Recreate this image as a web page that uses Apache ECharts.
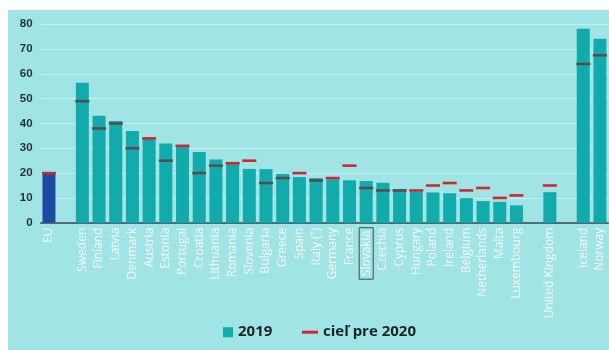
<!DOCTYPE html>
<html>
<head>
<meta charset="utf-8">
<script src="https://cdn.jsdelivr.net/npm/echarts@6/dist/echarts.min.js"></script>
<style>
  html, body { margin: 0; padding: 0; background: #ffffff; }
  #chart { position: absolute; left: 8px; top: 10px; width: 601px; height: 340px; background: #a1e4e5; }
</style>
</head>
<body>
<div id="chart"></div>
<script>
// Share of renewable energy in gross final energy consumption (%)
const countries = ['EU', '', 'Sweden', 'Finland', 'Latvia', 'Denmark', 'Austria', 'Estonia', 'Portugal',
  'Croatia', 'Lithuania', 'Romania', 'Slovenia', 'Bulgaria', 'Greece', 'Spain', 'Italy (¹)', 'Germany',
  'France', 'Slovakia', 'Czechia', 'Cyprus', 'Hungary', 'Poland', 'Ireland', 'Belgium', 'Netherlands',
  'Malta', 'Luxembourg', '', 'United Kingdom', '', 'Iceland', 'Norway'];

const share2019 = [19.7, null, 56.4, 43.1, 41.0, 37.0, 33.8, 31.9, 30.6,
  28.5, 25.5, 24.2, 21.7, 21.6, 19.7, 18.4, 18.0, 17.5,
  17.1, 16.8, 16.1, 13.6, 12.6, 12.2, 11.9, 9.9, 8.7,
  8.4, 7.0, null, 12.3, null, 78.2, 74.2];

const target2020 = [20, null, 49, 38, 40, 30, 34, 25, 31,
  20, 23, 24, 25, 16, 18, 20, 17, 18,
  23, 14, 13, 13, 13, 15, 16, 13, 14,
  10, 11, null, 15, null, 64, 67.5];

const yTicks = { min: 0, max: 80, interval: 10 };

const barColor = '#11abab';
const euColor = '#1c4aa3';
const targetRed = '#cc2a33';
const targetDark = '#5a4c4e';

const chart = echarts.init(document.getElementById('chart'), null, { renderer: 'canvas' });

const barData = share2019.map((v, i) =>
  countries[i] === 'EU' ? { value: v, itemStyle: { color: euColor } } : v);

const targetData = target2020.map((t, i) => {
  if (t == null) return null;
  const v = share2019[i];
  return { value: t, itemStyle: { color: (v != null && t < v - 0.5) ? targetDark : targetRed } };
});

const legendText = { color: '#1a2626', fontFamily: 'Open Sans', fontWeight: 'bold', fontSize: 15 };

chart.setOption({
  animation: false,
  grid: { left: 32.6, right: 0.7, top: 14.3, bottom: 127.3, containLabel: false },
  xAxis: {
    type: 'category',
    data: countries,
    axisLine: { show: true, lineStyle: { color: '#2a4750', width: 1.5 } },
    axisTick: { show: false },
    axisLabel: {
      interval: 0,
      rotate: 90,
      margin: 5,
      color: '#f4fbfb',
      fontFamily: 'Open Sans',
      fontSize: 12,
      formatter: (name) => name === 'Slovakia' ? '{box|' + name + '}' : name,
      rich: {
        box: {
          color: '#f4fbfb',
          fontFamily: 'Open Sans',
          fontSize: 12,
          borderColor: '#3c4c50',
          borderWidth: 1,
          padding: [1, 3, 1, 3]
        }
      }
    }
  },
  yAxis: {
    type: 'value',
    min: yTicks.min,
    max: yTicks.max,
    interval: yTicks.interval,
    axisLine: { show: false },
    axisTick: { show: false },
    splitLine: { lineStyle: { color: '#c6eff0', width: 1 } },
    axisLabel: {
      margin: 8,
      color: '#1e3434',
      fontFamily: 'Liberation Sans',
      fontWeight: 'bold',
      fontSize: 11.5
    }
  },
  legend: [
    {
      data: [{ name: '2019', icon: 'rect' }],
      left: 215, top: 314.7, padding: 0,
      itemWidth: 10, itemHeight: 10, itemGap: 5,
      textStyle: legendText
    },
    {
      data: [{ name: 'cieľ pre 2020', icon: 'rect', itemStyle: { color: targetRed } }],
      left: 294, top: 314.7, padding: 0,
      itemWidth: 16, itemHeight: 3, itemGap: 5,
      textStyle: legendText
    }
  ],
  series: [
    {
      name: '2019',
      type: 'bar',
      data: barData,
      barWidth: 13,
      itemStyle: { color: barColor },
      silent: true
    },
    {
      name: 'cieľ pre 2020',
      type: 'scatter',
      data: targetData,
      symbol: 'rect',
      symbolSize: [14, 2.6],
      itemStyle: { color: targetRed, opacity: 1 },
      z: 5,
      silent: true
    }
  ]
});
</script>
</body>
</html>
